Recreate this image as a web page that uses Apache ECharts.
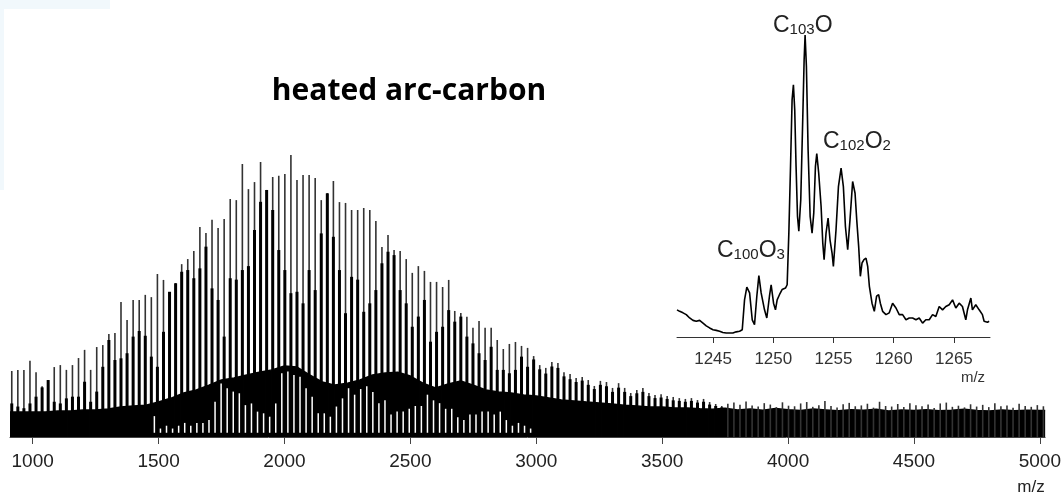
<!DOCTYPE html>
<html>
<head>
<meta charset="utf-8">
<script src="https://cdn.jsdelivr.net/npm/echarts@6/dist/echarts.min.js"></script>
<style>
html, body { margin: 0; padding: 0; background: #fff; }
#chart { width: 1064px; height: 493px; }
</style>
</head>
<body>
<div id="chart"></div>
<script>
// C2 ladder of the cluster peaks (m/z of the first peak and spacing)
var peakStart = 917;
var peakStep = 24.1;

// tall (thin, grey) peak tops, % of the largest peak
var mainPeaks = [
  23.4, 23.8, 23.8, 27.0, 23.0, 18.0, 20.2, 24.8, 25.5, 23.8,
  25.5, 28.0, 30.9, 23.8, 31.9, 32.6, 36.5, 36.9, 47.9, 41.5,
  48.6, 48.6, 50.4, 49.6, 57.8, 55.7, 51.4, 54.6, 61.3, 63.1,
  66.0, 74.5, 72.3, 77.0, 74.1, 77.3, 84.4, 84.0, 96.8, 87.9,
  90.4, 97.5, 87.6, 92.2, 92.6, 93.3, 100, 91.1, 92.9, 92.9,
  91.8, 84.0, 86.5, 90.8, 83.3, 83.0, 80.5, 80.5, 81.2, 80.5,
  76.6, 67.4, 71.6, 66.3, 66.0, 63.1, 58.2, 60.6, 58.9, 55.0,
  55.0, 53.2, 55.7, 44.7, 44.0, 42.6, 38.7, 41.1, 38.7, 38.7,
  34.4, 31.2, 33.0, 33.7, 32.3, 31.6, 28.7, 25.5, 24.5, 26.6,
  26.2, 23.0, 22.3, 20.9, 21.3, 20.2, 18.1, 19.9, 19.5, 17.4,
  19.1, 17.4, 15.6, 16.7, 17.4, 15.6, 14.9, 15.2, 14.5, 14.2,
  13.8, 13.5, 13.8, 13.1, 13.5, 12.4, 11.7, 11.0, 11.8, 12.2,
  11.4, 12.6, 11.2, 10.8, 12.0, 11.5, 10.6, 12.3, 11.1, 10.9,
  11.9, 12.4, 10.7, 11.3, 12.8, 11.0, 10.5, 11.6, 12.1, 10.9,
  11.2, 11.8, 10.4, 12.5, 11.0, 10.8, 11.7, 10.6, 12.0, 11.3,
  10.9, 11.5, 10.3, 11.9, 12.2, 10.7, 11.1, 10.5, 11.6, 10.8,
  11.4, 10.6, 12.0, 10.9, 11.2, 10.4, 11.8, 11.0, 10.7, 11.3,
  10.9
];

// dark part of each peak (oxide satellites piled on the same line)
var oxidePeaks = [
  11.9, 10.8, 10.2, 11.9, 14.3, 17.6, 20.2, 12.5, 11.9, 13.7,
  14.3, 14.3, 19.6, 12.5, 16.1, 24.9, 34.4, 27.3, 27.9, 29.7,
  35.6, 37.6, 35.9, 28.5, 24.9, 37.3, 51.5, 54.5, 58.6, 59.2,
  56.3, 59.8, 67.5, 52.7, 48.6, 35.6, 56.3, 55.8, 59.2, 60.6,
  73.4, 83.4, 87.6, 80.5, 66.3, 59.2, 51.0, 51.5, 47.4, 59.2,
  52.1, 72.2, 86.4, 71.0, 59.2, 43.9, 56.8, 55.8, 44.4, 47.4,
  52.1, 61.6, 65.7, 64.5, 52.1, 47.4, 39.1, 42.7, 48.6, 33.8,
  37.3, 39.1, 45.0, 40.9, 42.7, 35.6, 33.2, 29.7, 27.3, 32.0,
  23.8, 23.8, 22.6, 23.8, 28.5, 24.9, 27.5, 24.0, 22.5, 25.0,
  24.5, 21.5, 20.5, 19.5, 20.0, 18.5, 17.0, 18.5, 18.0, 16.0,
  17.5, 16.0, 14.5, 15.5, 16.0, 14.5, 13.8, 14.0, 13.5, 13.0,
  12.8, 12.5, 12.8, 12.2, 12.5, 11.5, 11.0, 10.5
];

// gaps between neighbouring peaks, starting after peak number valleyFrom
var valleyFrom = 23;
var valleys = [
  7.4, 3, 4, 3, 4, 5, 4, 5, 5, 6,
  12.5, 19.0, 17.3, 16.1, 15.5, 11.3, 11.9, 9.0, 8.4, 7.2,
  11.9, 22.6, 23.2, 22.0, 21.4, 17.3, 14.3, 8.4, 8.4, 7.2,
  10.8, 13.7, 17.3, 15, 17, 18, 16, 12, 13, 8,
  9, 9, 10, 11, 11, 15, 13, 12, 10, 10,
  7, 6, 8, 8, 9, 9, 8, 9, 6, 4,
  5, 4, 3
];

// unresolved background (dense black band)
var bandMz = [
  910, 950, 1000, 1050, 1100, 1150, 1200, 1250, 1300, 1350,
  1400, 1450, 1500, 1550, 1600, 1650, 1700, 1750, 1800, 1850,
  1900, 1950, 2000, 2050, 2100, 2150, 2200, 2250, 2300, 2350,
  2400, 2450, 2500, 2550, 2600, 2650, 2700, 2750, 2800, 2850,
  2900, 2950, 3000, 3050, 3100, 3150, 3200, 3250, 3300, 3350,
  3400, 3450, 3500, 3550, 3600, 3650, 3700, 3750, 3800, 3850,
  3900, 3950, 4000, 4050, 4100, 4150, 4200, 4250, 4300, 4350,
  4400, 4450, 4500, 4550, 4600, 4650, 4700, 4750, 4800, 4850,
  4900, 4950, 5000, 5021
];
var bandTop = [
  8.9, 8.9, 8.9, 8.9, 9.2, 9.2, 9.6, 9.6, 9.9, 10.6,
  11.0, 11.3, 12.4, 13.8, 15.6, 16.7, 18.4, 20.2, 20.9, 22.0,
  23.0, 23.8, 25.2, 24.8, 22.0, 19.5, 18.4, 19.1, 20.2, 22.0,
  22.7, 23.0, 21.6, 19.1, 17.4, 18.8, 19.9, 18.4, 16.7, 16.0,
  15.6, 14.9, 14.5, 13.8, 13.1, 12.8, 12.4, 12.1, 11.7, 11.3,
  11.0, 10.6, 10.6, 10.3, 10.3, 10.0, 9.8, 10.2, 9.6, 9.9,
  9.5, 10.1, 9.7, 9.4, 9.9, 9.6, 9.3, 9.7, 9.5, 9.8,
  9.2, 9.6, 9.4, 9.7, 9.3, 9.5, 9.8, 9.4, 9.2, 9.6,
  9.3, 9.5, 9.4, 9.4
];
var mainTicks = [1000, 1500, 2000, 2500, 3000, 3500, 4000, 4500, 5000];

// inset: zoom on 1242-1268
var insetMz = [
  1242.00, 1242.22, 1242.50, 1242.77, 1243.05, 1243.33, 1243.60, 1243.88, 1244.16, 1244.43,
  1244.71, 1244.99, 1245.26, 1245.54, 1245.81, 1246.09, 1246.37, 1246.64, 1246.92, 1247.20,
  1247.42, 1247.61, 1247.80, 1248.03, 1248.25, 1248.44, 1248.63, 1248.80, 1248.99, 1249.27,
  1249.46, 1249.68, 1249.82, 1250.02, 1250.18, 1250.32, 1250.51, 1250.73, 1251.01, 1251.15,
  1251.29, 1251.43, 1251.56, 1251.67, 1251.78, 1251.89, 1252.01, 1252.12, 1252.28, 1252.45,
  1252.56, 1252.64, 1252.75, 1252.89, 1253.06, 1253.22, 1253.36, 1253.50, 1253.61, 1253.77,
  1253.97, 1254.11, 1254.22, 1254.38, 1254.55, 1254.71, 1254.88, 1254.99, 1255.21, 1255.41,
  1255.63, 1255.82, 1255.99, 1256.18, 1256.37, 1256.59, 1256.79, 1256.93, 1257.09, 1257.23,
  1257.37, 1257.53, 1257.70, 1257.84, 1257.98, 1258.20, 1258.39, 1258.58, 1258.75, 1258.89,
  1259.08, 1259.36, 1259.63, 1259.91, 1260.19, 1260.46, 1260.74, 1261.02, 1261.29, 1261.57,
  1261.85, 1262.12, 1262.40, 1262.67, 1262.95, 1263.23, 1263.50, 1263.78, 1264.06, 1264.33,
  1264.61, 1264.89, 1265.16, 1265.44, 1265.71, 1265.99, 1266.13, 1266.41, 1266.54, 1266.82,
  1267.10, 1267.37, 1267.51, 1267.79, 1267.93
];
var insetInt = [
  9.0, 8.5, 8.0, 7.4, 6.3, 5.5, 5.2, 5.5, 4.6, 3.7,
  3.0, 2.4, 2.2, 1.9, 1.5, 1.3, 1.3, 1.3, 1.7, 1.9,
  2.4, 12.3, 16.5, 14.6, 5.7, 4.1, 13.5, 20.3, 14.6, 9.0,
  6.3, 13.5, 17.3, 11.2, 9.0, 12.3, 14.0, 15.7, 16.2, 17.3,
  34.4, 56.5, 78.5, 83.5, 75.2, 56.5, 39.9, 35.0, 45.4, 73.0,
  91.7, 100, 89.6, 62.0, 39.9, 34.4, 41.0, 56.5, 60.7, 54.3,
  43.2, 31.1, 25.6, 34.4, 39.4, 32.2, 27.8, 23.4, 35.5, 49.8,
  55.9, 49.8, 36.6, 28.9, 38.8, 51.5, 47.6, 38.8, 30.0, 20.1,
  24.5, 25.6, 26.1, 23.4, 16.8, 11.2, 8.5, 13.5, 14.0, 11.2,
  8.5, 7.4, 8.0, 11.2, 9.6, 7.4, 7.4, 5.7, 6.3, 6.3,
  5.7, 6.3, 4.6, 5.7, 5.7, 7.4, 6.8, 10.1, 9.0, 10.1,
  10.7, 12.3, 9.6, 11.2, 10.1, 5.7, 9.0, 12.9, 9.0, 10.7,
  9.0, 7.4, 5.2, 4.9, 5.2
];
var insetTicks = [1245, 1250, 1255, 1260, 1265];

function stick(color, width) {
  return function (params, api) {
    var p0 = api.coord([api.value(0), api.value(1)]);
    var p1 = api.coord([api.value(0), api.value(2)]);
    return {
      type: 'line',
      shape: { x1: p0[0], y1: p0[1], x2: p1[0], y2: p1[1] },
      style: { stroke: color, lineWidth: width }
    };
  };
}

function plain(v) { return String(v); }

function formula(x, y, text) {
  return {
    type: 'text', x: x, y: y,
    style: {
      text: text, align: 'left', verticalAlign: 'bottom', fill: '#222',
      rich: {
        n: { fontSize: 23, fontFamily: labelFont, lineHeight: 26, verticalAlign: 'bottom', fill: '#222' },
        s: { fontSize: 15, fontFamily: labelFont, lineHeight: 26, verticalAlign: 'bottom', fill: '#222' }
      }
    }
  };
}

var chart = echarts.init(document.getElementById('chart'));

var mainData = mainPeaks.map(function (h, k) { return [peakStart + k * peakStep, 0, h]; });
var oxideData = oxidePeaks.map(function (h, k) { return [peakStart + k * peakStep, 0, h]; });
var valleyData = valleys.map(function (h, i) {
  return [peakStart + (valleyFrom + i) * peakStep + peakStep / 2, 1.5, h];
});
var bandData = bandMz.map(function (m, i) { return [m, bandTop[i]]; });
var insetData = insetMz.map(function (m, i) { return [m, insetInt[i]]; });

var labelFont = 'Liberation Sans';

option = {
  animation: false,
  grid: [
    { left: 10, right: 18, top: 155, bottom: 56 },
    { left: 677, top: 35, width: 313, height: 302 }
  ],
  xAxis: [
    {
      type: 'value', gridIndex: 0, min: 910, max: 5021,
      axisLine: { lineStyle: { color: '#444', width: 1 } },
      axisTick: { customValues: mainTicks, length: 7, lineStyle: { color: '#444' } },
      axisLabel: { customValues: mainTicks, formatter: plain, margin: 15, fontSize: 19, fontFamily: labelFont, color: '#222' },
      splitLine: { show: false }
    },
    {
      type: 'value', gridIndex: 1, min: 1242, max: 1268,
      axisLine: { lineStyle: { color: '#333', width: 1 } },
      axisTick: { customValues: insetTicks, length: 6, lineStyle: { color: '#333' } },
      axisLabel: { customValues: insetTicks, formatter: plain, margin: 14, fontSize: 17, fontFamily: labelFont, color: '#333' },
      splitLine: { show: false }
    }
  ],
  yAxis: [
    { type: 'value', gridIndex: 0, min: 0, max: 100, show: false },
    { type: 'value', gridIndex: 1, min: 0, max: 100, show: false }
  ],
  series: [
    {
      type: 'line', xAxisIndex: 0, yAxisIndex: 0, data: bandData,
      showSymbol: false, silent: true, z: 1,
      lineStyle: { color: '#000', width: 1.5 },
      areaStyle: { color: '#000', opacity: 1 }
    },
    {
      type: 'custom', xAxisIndex: 0, yAxisIndex: 0, data: mainData, z: 2,
      encode: { x: 0, y: [1, 2] }, renderItem: stick('#333', 1.6), silent: true
    },
    {
      type: 'custom', xAxisIndex: 0, yAxisIndex: 0, data: oxideData, z: 3,
      encode: { x: 0, y: [1, 2] }, renderItem: stick('#000', 3), silent: true
    },
    {
      type: 'custom', xAxisIndex: 0, yAxisIndex: 0, data: valleyData, z: 4,
      encode: { x: 0, y: [1, 2] }, renderItem: stick('#fff', 1.5), silent: true
    },
    {
      type: 'line', xAxisIndex: 1, yAxisIndex: 1, data: insetData,
      showSymbol: false, silent: true, z: 5,
      lineStyle: { color: '#000', width: 1.6 }
    }
  ],
  graphic: [
    { type: 'rect', shape: { x: 0, y: 0, width: 4, height: 190 }, style: { fill: '#f1f8fc' } },
    { type: 'rect', shape: { x: 0, y: 0, width: 110, height: 9 }, style: { fill: '#f1f8fc' } },
    {
      type: 'text', x: 409, y: 91,
      style: { text: 'heated arc-carbon', font: 'bold 30px "Open Sans"', fill: '#000', align: 'center', verticalAlign: 'middle' }
    },
    {
      type: 'text', x: 1031, y: 487,
      style: { text: 'm/z', font: '17px "Liberation Sans"', fill: '#222', align: 'center', verticalAlign: 'middle' }
    },
    {
      type: 'text', x: 973, y: 378,
      style: { text: 'm/z', font: '15px "Liberation Sans"', fill: '#333', align: 'center', verticalAlign: 'middle' }
    },
    formula(773, 37, '{n|C}{s|103}{n|O}'),
    formula(823, 153, '{n|C}{s|102}{n|O}{s|2}'),
    formula(717, 262, '{n|C}{s|100}{n|O}{s|3}')
  ]
};

chart.setOption(option);
</script>
</body>
</html>
